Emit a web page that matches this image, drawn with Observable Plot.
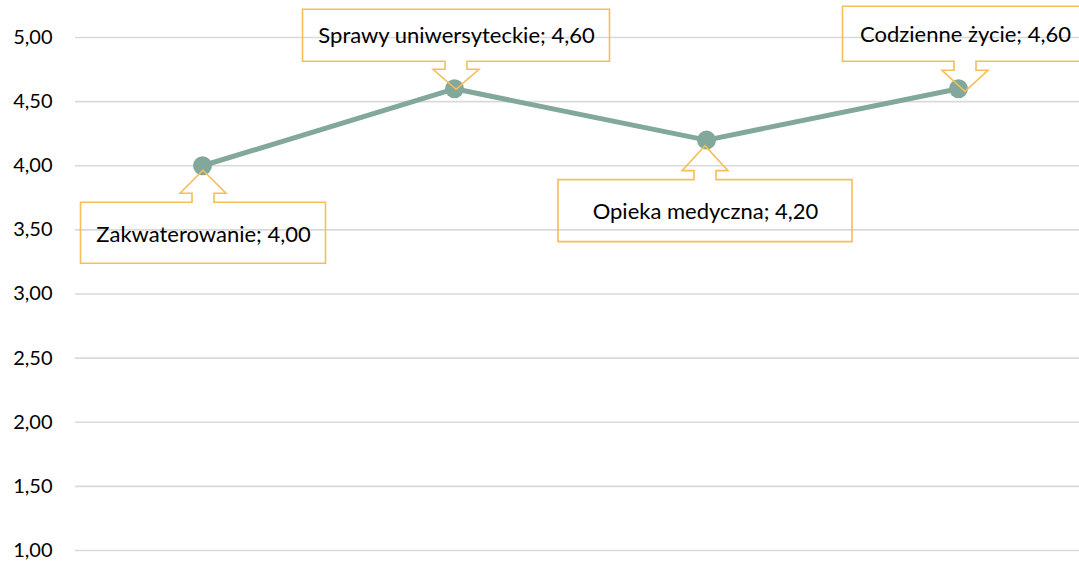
<!DOCTYPE html>
<html>
<head>
<meta charset="utf-8">
<script src="https://cdn.jsdelivr.net/npm/d3@7"></script>
<script src="https://cdn.jsdelivr.net/npm/@observablehq/plot@0.6"></script>
<style>
  html, body { margin: 0; padding: 0; background: #fff; overflow: hidden; }
  #chart svg { display: block; }
</style>
</head>
<body>
<div id="chart"></div>
<script>
// ---- data ----
const categories = ["Zakwaterowanie", "Sprawy uniwersyteckie", "Opieka medyczna", "Codzienne życie"];
const values = [4.00, 4.60, 4.20, 4.60];
const yTicks = [1.00, 1.50, 2.00, 2.50, 3.00, 3.50, 4.00, 4.50, 5.00];

const data = categories.map((c, i) => ({cat: c, val: values[i]}));
const fmt = v => v.toFixed(2).replace(".", ",");

// ---- callout layout (pixel offsets relative to each point) ----
const calloutLayout = [
  {side: "below", dx: 1, dy: 5, head: 23, gap: 32, w: 245, h: 61, tdy: 2},
  {side: "above", dx: 2, dy: -1, head: 20, gap: 28, w: 307, h: 52, tdy: 0},
  {side: "below", dx: -1, dy: 6, head: 25, gap: 34, w: 294, h: 62, tdy: 1},
  {side: "above", dx: 7, dy: -3, head: 21, gap: 30, w: 245, h: 55, tdy: 1}
];
const headHalf = 23, shaftHalf = 11;
const lineColor = "#82A79B";
const calloutColor = "#F6BD58";
const font = "Lato, 'Open Sans', sans-serif";

function calloutPath(px, py, L) {
  const s = L.side === "below" ? 1 : -1;
  const tx = px + L.dx, ty = py + s * L.dy;
  const hb = ty + s * L.head;           // head base
  const bn = ty + s * L.gap;            // box near edge
  const bf = bn + s * L.h;              // box far edge
  const bl = tx - L.w / 2, br = tx + L.w / 2;
  const pts = [
    [tx, ty], [tx + headHalf, hb], [tx + shaftHalf, hb], [tx + shaftHalf, bn],
    [br, bn], [br, bf], [bl, bf], [bl, bn],
    [tx - shaftHalf, bn], [tx - shaftHalf, hb], [tx - headHalf, hb]
  ];
  return "M" + pts.map(p => p.join(",")).join("L") + "Z";
}

function calloutMark(index, scales) {
  const g = d3.create("svg:g");
  data.forEach((d, i) => {
    const px = scales.x(d.cat), py = scales.y(d.val);
    g.append("path")
      .attr("d", calloutPath(px, py, calloutLayout[i]))
      .attr("fill", "none")
      .attr("stroke", calloutColor)
      .attr("stroke-width", 1.6)
      .attr("stroke-linejoin", "miter");
  });
  return g.node();
}

const textMarks = data.map((d, i) => {
  const L = calloutLayout[i];
  const s = L.side === "below" ? 1 : -1;
  const off = s * (L.dy + L.gap + L.h / 2) + L.tdy;
  return Plot.text([d], {
    x: "cat", y: "val",
    text: d => `${d.cat}; ${fmt(d.val)}`,
    dx: L.dx, dy: off,
    fontSize: 22, fill: "#000", textAnchor: "middle", lineAnchor: "middle"
  });
});

const chart = Plot.plot({
  width: 1079,
  height: 563,
  marginLeft: 75,
  marginRight: 0,
  marginTop: 37,
  marginBottom: 13,
  style: {fontFamily: font, fontSize: "20px", color: "#000", background: "#fff"},
  x: {type: "point", domain: categories, range: [75, 1084], padding: 0.5, axis: null},
  y: {domain: [1, 5], ticks: yTicks, tickFormat: fmt, tickSize: 0, tickPadding: 23, label: null},
  marks: [
    Plot.ruleY(yTicks, {stroke: "#D9D9D9", strokeWidth: 1.6}),
    Plot.line(data, {x: "cat", y: "val", stroke: lineColor, strokeWidth: 5}),
    Plot.dot(data, {x: "cat", y: "val", r: 9.5, fill: lineColor, stroke: "none"}),
    calloutMark,
    ...textMarks
  ]
});
document.getElementById("chart").appendChild(chart);
</script>
</body>
</html>
